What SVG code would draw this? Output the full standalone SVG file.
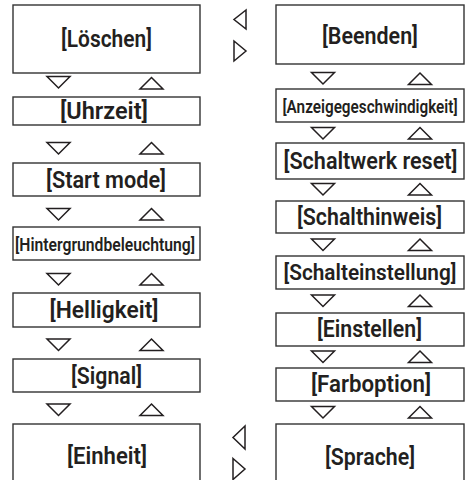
<svg xmlns="http://www.w3.org/2000/svg" xmlns:xlink="http://www.w3.org/1999/xlink" width="469" height="480" viewBox="0 0 469 480">
<style>
.box{fill:#fff;stroke:#333;stroke-width:1.4}
.lbl{font-family:Roboto,"Liberation Sans",sans-serif;font-weight:600;font-size:23px;fill:#231f20;text-anchor:middle}
.md{font-size:22px}
.sm{font-size:19px}
.xs{font-size:18px}
.tri{fill:none;stroke:#231f20;stroke-width:1.5;stroke-linejoin:miter}
</style>
<defs>
<path id="dn" class="tri" d="M0,0 H23 L11.5,11.5 Z"/>
<path id="up" class="tri" d="M0,11.5 H23 L11.5,0 Z"/>
</defs>
<rect width="469" height="480" fill="#fff"/>
<g id="n-loeschen"><rect class="box" x="13" y="5" width="187" height="68"/><text class="lbl" x="106.5" y="47" textLength="91" lengthAdjust="spacingAndGlyphs">[Löschen]</text></g>
<g id="n-uhrzeit"><rect class="box" x="13" y="97" width="187" height="28"/><text class="lbl" x="104" y="119" textLength="88" lengthAdjust="spacingAndGlyphs">[Uhrzeit]</text></g>
<g id="n-startmode"><rect class="box" x="13" y="163" width="187" height="33"/><text class="lbl" x="106" y="187.5" textLength="120" lengthAdjust="spacingAndGlyphs">[Start mode]</text></g>
<g id="n-hintergrund"><rect class="box" x="13" y="227" width="187" height="33"/><text class="lbl sm" x="105" y="250.5" textLength="180" lengthAdjust="spacingAndGlyphs">[Hintergrundbeleuchtung]</text></g>
<g id="n-helligkeit"><rect class="box" x="13" y="293" width="187" height="34"/><text class="lbl" x="104" y="318" textLength="109" lengthAdjust="spacingAndGlyphs">[Helligkeit]</text></g>
<g id="n-signal"><rect class="box" x="13" y="359" width="187" height="33"/><text class="lbl" x="106.5" y="383.5" textLength="71" lengthAdjust="spacingAndGlyphs">[Signal]</text></g>
<g id="n-einheit"><rect class="box" x="13" y="424" width="187" height="62"/><text class="lbl" x="107" y="464" textLength="80" lengthAdjust="spacingAndGlyphs">[Einheit]</text></g>
<g id="n-beenden"><rect class="box" x="276" y="5" width="188" height="59"/><text class="lbl" x="370" y="44" textLength="96" lengthAdjust="spacingAndGlyphs">[Beenden]</text></g>
<g id="n-anzeige"><rect class="box" x="276" y="89" width="188" height="33"/><text class="lbl xs" transform="translate(370,112.5) scale(0.85,1)">[Anzeigegeschwindigkeit]</text></g>
<g id="n-schaltwerk"><rect class="box" x="276" y="143" width="188" height="36"/><text class="lbl" x="370.5" y="169" textLength="174" lengthAdjust="spacingAndGlyphs">[Schaltwerk reset]</text></g>
<g id="n-schalthinweis"><rect class="box" x="276" y="201" width="188" height="32"/><text class="lbl" x="369.5" y="224.5" textLength="145" lengthAdjust="spacingAndGlyphs">[Schalthinweis]</text></g>
<g id="n-schalteinstellung"><rect class="box" x="276" y="256" width="188" height="33"/><text class="lbl md" x="370" y="280" textLength="173" lengthAdjust="spacingAndGlyphs">[Schalteinstellung]</text></g>
<g id="n-einstellen"><rect class="box" x="276" y="313" width="188" height="33"/><text class="lbl" x="369.5" y="336.5" textLength="105" lengthAdjust="spacingAndGlyphs">[Einstellen]</text></g>
<g id="n-farboption"><rect class="box" x="276" y="368" width="188" height="33"/><text class="lbl" x="371" y="391.5" textLength="120" lengthAdjust="spacingAndGlyphs">[Farboption]</text></g>
<g id="n-sprache"><rect class="box" x="276" y="424" width="188" height="62"/><text class="lbl" x="370" y="465" textLength="90" lengthAdjust="spacingAndGlyphs">[Sprache]</text></g>
<g id="connectors">
<use href="#dn" x="47" y="76.5"/><use href="#up" x="140" y="77.5"/>
<use href="#dn" x="47" y="142.5"/><use href="#up" x="140" y="142.5"/>
<use href="#dn" x="47" y="208.5"/><use href="#up" x="140" y="208.5"/>
<use href="#dn" x="47" y="273.5"/><use href="#up" x="140" y="273.5"/>
<use href="#dn" x="47" y="339"/><use href="#up" x="140" y="339"/>
<use href="#dn" x="47" y="404"/><use href="#up" x="140" y="404"/>
<use href="#dn" x="311.5" y="72.5"/><use href="#up" x="408.5" y="73"/>
<use href="#dn" x="311.5" y="127.5"/><use href="#up" x="408.5" y="127.5"/>
<use href="#dn" x="311.5" y="183.5"/><use href="#up" x="408.5" y="183.5"/>
<use href="#dn" x="311.5" y="239"/><use href="#up" x="408.5" y="239"/>
<use href="#dn" x="311.5" y="295"/><use href="#up" x="408.5" y="295"/>
<use href="#dn" x="311.5" y="351"/><use href="#up" x="408.5" y="351"/>
<use href="#dn" x="311.5" y="406.5"/><use href="#up" x="408.5" y="406.5"/>
<path class="tri" d="M246,10 L234,19.5 L246,29 Z"/>
<path class="tri" d="M234,41 L246,51 L234,61 Z"/>
<path class="tri" d="M245,426 L233,437.5 L245,449 Z"/>
<path class="tri" d="M233,458.5 L245,469 L233,479.5 Z"/>
</g>
</svg>
